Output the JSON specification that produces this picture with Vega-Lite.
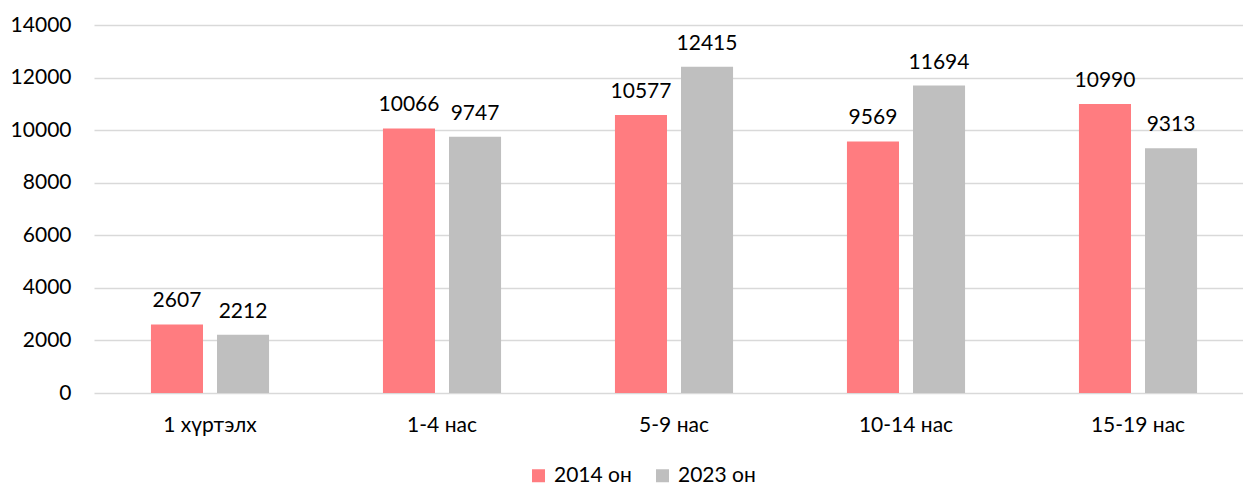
{
  "$schema": "https://vega.github.io/schema/vega-lite/v6.json",
  "width": 1149,
  "height": 368,
  "autosize": "none",
  "padding": {"left": 94, "top": 25, "right": 0, "bottom": 94},
  "background": "white",
  "config": {
    "view": {"stroke": null},
    "font": "Lato",
    "axis": {"labelFont": "Lato", "labelFontSize": 21, "labelColor": "#000"},
    "legend": {"labelFont": "Lato", "labelFontSize": 21, "labelColor": "#000"}
  },
  "data": {
    "values": [
      {"age": "1 хүртэлх", "year": "2014 он", "value": 2607},
      {"age": "1 хүртэлх", "year": "2023 он", "value": 2212},
      {"age": "1-4 нас", "year": "2014 он", "value": 10066},
      {"age": "1-4 нас", "year": "2023 он", "value": 9747},
      {"age": "5-9 нас", "year": "2014 он", "value": 10577},
      {"age": "5-9 нас", "year": "2023 он", "value": 12415},
      {"age": "10-14 нас", "year": "2014 он", "value": 9569},
      {"age": "10-14 нас", "year": "2023 он", "value": 11694},
      {"age": "15-19 нас", "year": "2014 он", "value": 10990},
      {"age": "15-19 нас", "year": "2023 он", "value": 9313}
    ]
  },
  "encoding": {
    "x": {
      "field": "age", "type": "nominal", "sort": null, "title": null,
      "scale": {"range": [0, 1160], "paddingInner": 0.491, "paddingOuter": 0.2455},
      "axis": {"domain": false, "ticks": false, "tickSize": 0, "labelAngle": 0, "labelPadding": 21, "grid": false}
    },
    "xOffset": {
      "field": "year", "type": "nominal",
      "scale": {"paddingInner": 0.212, "paddingOuter": 0}
    },
    "y": {
      "field": "value", "type": "quantitative", "title": null,
      "scale": {"domain": [0, 14000], "nice": false},
      "axis": {"values": [0, 2000, 4000, 6000, 8000, 10000, 12000, 14000], "format": "d", "domain": false, "ticks": false, "tickSize": 0, "labelPadding": 23, "gridColor": "#d9d9d9", "gridWidth": 1.5}
    }
  },
  "layer": [
    {
      "mark": {"type": "bar"},
      "encoding": {
        "color": {
          "field": "year", "type": "nominal", "title": null,
          "scale": {"domain": ["2014 он", "2023 он"], "range": ["#FF7C80", "#BFBFBF"]},
          "legend": {"orient": "none", "direction": "horizontal", "legendX": 434, "legendY": 440, "symbolType": "square", "symbolSize": 169, "symbolStrokeWidth": 0, "labelOffset": 5, "columnPadding": 20}
        }
      }
    },
    {
      "mark": {"type": "text", "baseline": "alphabetic", "dy": -17, "fontSize": 21, "font": "Lato", "color": "#000"},
      "encoding": {"text": {"field": "value", "type": "quantitative", "format": "d"}}
    }
  ]
}
